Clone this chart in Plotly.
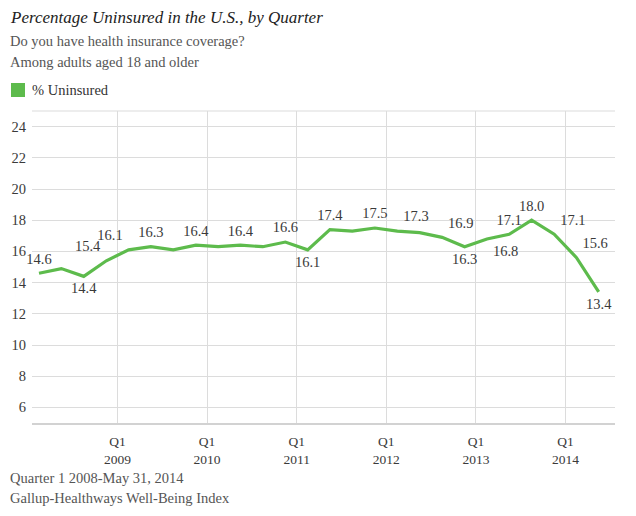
import pandas as pd
import plotly.graph_objects as go

quarters = ["2008Q1", "2008Q2", "2008Q3", "2008Q4",
            "2009Q1", "2009Q2", "2009Q3", "2009Q4",
            "2010Q1", "2010Q2", "2010Q3", "2010Q4",
            "2011Q1", "2011Q2", "2011Q3", "2011Q4",
            "2012Q1", "2012Q2", "2012Q3", "2012Q4",
            "2013Q1", "2013Q2", "2013Q3", "2013Q4",
            "2014Q1", "2014Q2"]
uninsured = [14.6, 14.9, 14.4, 15.4,
             16.1, 16.3, 16.1, 16.4,
             16.3, 16.4, 16.3, 16.6,
             16.1, 17.4, 17.3, 17.5,
             17.3, 17.2, 16.9, 16.3,
             16.8, 17.1, 18.0, 17.1,
             15.6, 13.4]
# where each data label sits relative to its point (None = no label)
label_pos = ["top center", None, "bottom center", "top left",
             "top left", "top center", None, "top center",
             None, "top center", None, "top center",
             "bottom center", "top center", None, "top center",
             "top right", None, "top right", "bottom center",
             "bottom right", "top center", "top center", "top right",
             "top right", "bottom center"]
tick_years = ["2009", "2010", "2011", "2012", "2013", "2014"]
y_ticks = [6, 8, 10, 12, 14, 16, 18, 20, 22, 24]

GREEN = "#5dbb4c"
SERIF = "Liberation Serif, DejaVu Serif, serif"

# mid-quarter dates for each point
dates = []
for q in quarters:
    p = pd.Period(q, freq="Q")
    dates.append(p.start_time + (p.end_time - p.start_time) / 2)

tick_vals = [pd.Timestamp(f"{y}-01-01") for y in tick_years]
tick_text = [f"Q1<br>{y}" for y in tick_years]

fig = go.Figure()
fig.add_trace(go.Scatter(
    x=dates, y=uninsured, mode="lines",
    line=dict(color=GREEN, width=3.2),
    hoverinfo="x+y", showlegend=False,
))

lx = [d for d, p in zip(dates, label_pos) if p]
ly = [v for v, p in zip(uninsured, label_pos) if p]
lp = [p for p in label_pos if p]
fig.add_trace(go.Scatter(
    x=lx, y=ly, mode="markers+text",
    marker=dict(size=8, opacity=0),
    text=[f"{v:.1f}" for v in ly],
    textposition=lp, cliponaxis=False,
    textfont=dict(family=SERIF, size=14.5, color="#3a3a3a"),
    hoverinfo="skip", showlegend=False,
))

# page is drawn with an 8px body offset, so margins are shifted by 8px
fig.update_layout(
    width=636, height=516,
    margin=dict(l=24, r=29, t=103, b=101),
    paper_bgcolor="white", plot_bgcolor="white",
    font=dict(family=SERIF, color="#3a3a3a", size=14),
    xaxis=dict(
        range=[pd.Timestamp("2008-01-18"), pd.Timestamp("2014-07-22")],
        tickvals=tick_vals, ticktext=tick_text,
        showgrid=True, gridcolor="#dcdcdc", gridwidth=1.2,
        showline=True, linecolor="#d2d2d2", linewidth=2,
        zeroline=False, ticks="", automargin=False,
        ticklabelstandoff=5,
        tickfont=dict(family=SERIF, size=13.5, color="#3a3a3a"),
    ),
    yaxis=dict(
        range=[5, 25], tickvals=y_ticks,
        showgrid=True, gridcolor="#dcdcdc", gridwidth=1.2,
        zeroline=False, showline=False, ticks="", automargin=False,
        tickfont=dict(family=SERIF, size=14.5, color="#3a3a3a"),
        ticklabelstandoff=5,
    ),
)

# top border of the plotting area
fig.add_shape(type="line", xref="paper", yref="paper", x0=0, x1=1, y0=1, y1=1,
              line=dict(color="#dcdcdc", width=1.2))

def ann(text, px, py, size, color="#555555", italic=False):
    fig.add_annotation(
        text=f"<i>{text}</i>" if italic else text,
        xref="paper", yref="paper",
        x=(px - 32) / 583, y=(423 - py) / 312,
        xanchor="left", yanchor="middle", showarrow=False, borderpad=0,
        font=dict(family=SERIF, size=size, color=color),
    )

ann("Percentage Uninsured in the U.S., by Quarter", 9, 18, 17, "#222222", italic=True)
ann("Do you have health insurance coverage?", 9, 41, 14.5)
ann("Among adults aged 18 and older", 9, 62, 14.5)
ann("% Uninsured", 31, 90, 14.5, "#333333")
ann("Quarter 1 2008-May 31, 2014", 9, 478, 14.5)
ann("Gallup-Healthways Well-Being Index", 9, 498, 14.5)

# legend swatch
fig.add_shape(type="rect", xref="paper", yref="paper",
              x0=(11 - 32) / 583, x1=(25 - 32) / 583,
              y0=(423 - 97) / 312, y1=(423 - 83) / 312,
              fillcolor=GREEN, line=dict(width=0))

fig.write_html("out.html")
